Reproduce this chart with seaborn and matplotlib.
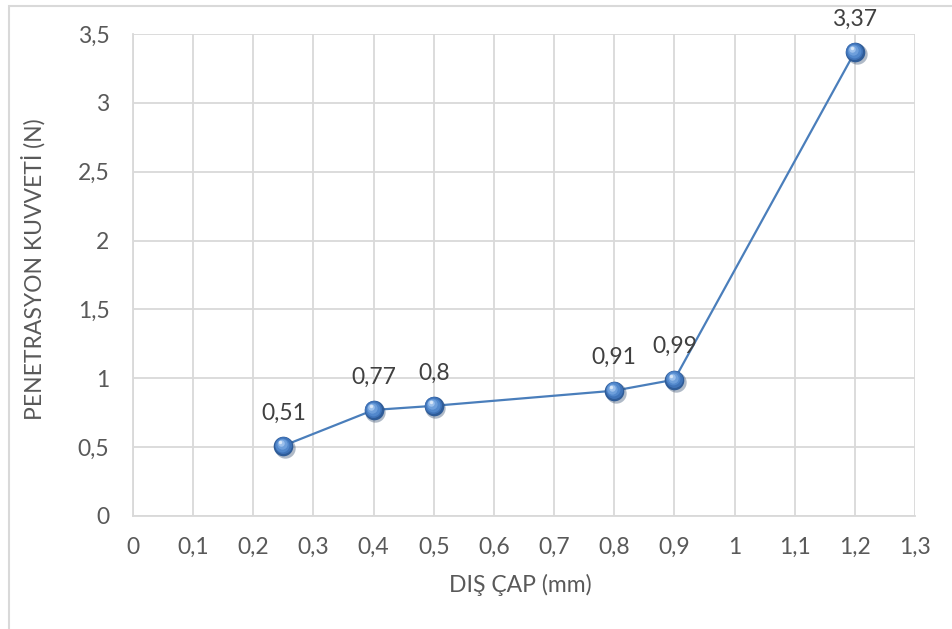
import matplotlib
matplotlib.use("Agg")
import matplotlib.pyplot as plt
import matplotlib.ticker as mticker
import matplotlib.transforms as mtransforms
from matplotlib.patches import Rectangle
import seaborn as sns
import pandas as pd

# ---- data ----
dis_cap = [0.25, 0.4, 0.5, 0.8, 0.9, 1.2]
kuvvet = [0.51, 0.77, 0.8, 0.91, 0.99, 3.37]
labels = ["0,51", "0,77", "0,8", "0,91", "0,99", "3,37"]
x_label = "DIŞ ÇAP (mm)"
y_label = "PENETRASYON KUVVETİ (N)"

df = pd.DataFrame({"x": dis_cap, "y": kuvvet})

sns.set_theme(style="white")
plt.rcParams['font.family'] = ['Lato', 'DejaVu Sans']

TXT = "#595959"
GRID = "#D9D9D9"
LINE = "#4A7EBB"
FS = 16.5

fig = plt.figure(figsize=(9.53, 6.29), dpi=100)
W, H = 953, 629
ax = fig.add_axes([133 / W, 1 - 516 / H, (915 - 133) / W, (516 - 34) / H])

# chart frame (partially visible, like the Excel chart border)
fig.patches.append(Rectangle((9 / W, -0.1), 1.2, (1 - 6 / H) + 0.1,
                             transform=fig.transFigure, fill=False,
                             edgecolor=GRID, linewidth=1.5, zorder=0))

sns.lineplot(data=df, x="x", y="y", ax=ax, color=LINE, linewidth=1.6,
             sort=False, zorder=3)

# sphere-like markers built from layered circles
def off(dx, dy):
    return mtransforms.offset_copy(ax.transData, fig=fig, x=dx, y=dy, units="points")

ax.scatter(df["x"], df["y"], s=215, color="#1F3A60", alpha=0.35,
           transform=off(1.2, -1.6), zorder=4, linewidths=0)
layers = [
    (200, "#2F5C98", 0, 0),
    (150, "#3F73B8", -0.4, 0.4),
    (100, "#5288CC", -0.8, 0.9),
    (55, "#6E9FDB", -1.3, 1.5),
    (22, "#9CC0EC", -1.8, 2.1),
    (6, "#D8E7F8", -2.2, 2.6),
]
for s, c, dx, dy in layers:
    ax.scatter(df["x"], df["y"], s=s, color=c, transform=off(dx, dy),
               zorder=5, linewidths=0)

for xv, yv, lab in zip(dis_cap, kuvvet, labels):
    ax.annotate(lab, (xv, yv), xytext=(0, 19), textcoords="offset points",
                ha="center", va="baseline", fontsize=FS, color="#404040",
                zorder=6)

ax.set_xlim(0, 1.3)
ax.set_ylim(0, 3.5)
ax.xaxis.set_major_locator(mticker.MultipleLocator(0.1))
ax.yaxis.set_major_locator(mticker.MultipleLocator(0.5))
fmt = mticker.FuncFormatter(lambda v, p: ("%g" % round(v, 2)).replace(".", ","))
ax.xaxis.set_major_formatter(fmt)
ax.yaxis.set_major_formatter(fmt)

ax.grid(True, color=GRID, linewidth=1.3)
ax.set_axisbelow(True)
for side in ["top", "right"]:
    ax.spines[side].set_visible(False)
for side in ["left", "bottom"]:
    ax.spines[side].set_color(GRID)
    ax.spines[side].set_linewidth(1.3)

ax.tick_params(axis="both", length=0, labelsize=FS, labelcolor=TXT)
ax.tick_params(axis="x", pad=15)
ax.tick_params(axis="y", pad=17)

ax.set_xlabel(x_label, fontsize=FS, color=TXT, va="center")
ax.set_ylabel(y_label, fontsize=FS, color=TXT, va="center")
ax.xaxis.set_label_coords((520 - 133) / 782, -(585 - 516) / 482)
ax.yaxis.set_label_coords((33 - 133) / 782, (516 - 269) / 482)

fig.savefig("out.png", dpi=100, facecolor="white")
